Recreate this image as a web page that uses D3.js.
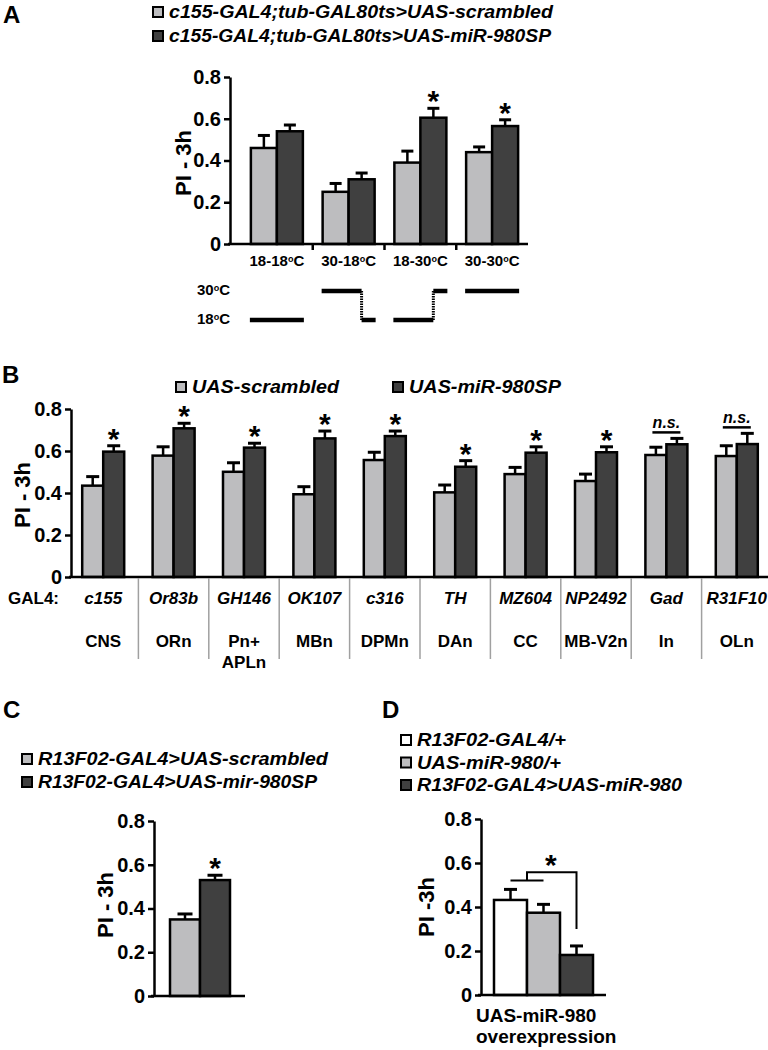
<!DOCTYPE html>
<html>
<head>
<meta charset="utf-8">
<script src="https://cdn.jsdelivr.net/npm/d3@7"></script>
<style>
  body { margin: 0; background: #fff; }
  svg { display: block; font-family: "Liberation Sans", Arial, sans-serif; font-weight: bold; }
</style>
</head>
<body>
<svg width="768" height="1050"></svg>
<script>
// ---- data ----
// panel A: temperature shift experiment
const tempGroups = ["18-18", "30-18", "18-30", "30-30"];
const tempPhases = [[18, 18], [30, 18], [18, 30], [30, 30]];
const tempScrambled = [0.46, 0.25, 0.39, 0.44];
const tempScrambledErr = [0.06, 0.04, 0.055, 0.025];
const tempSponge = [0.54, 0.31, 0.605, 0.565];
const tempSpongeErr = [0.03, 0.03, 0.045, 0.03];
const tempSig = ["", "", "*", "*"];
const tempLegend = ["c155-GAL4;tub-GAL80ts>UAS-scrambled", "c155-GAL4;tub-GAL80ts>UAS-miR-980SP"];

// panel B: GAL4 driver screen
const driverLines = ["c155", "Or83b", "GH146", "OK107", "c316", "TH", "MZ604", "NP2492", "Gad", "R31F10"];
const cellTypes = [["CNS"], ["ORn"], ["Pn+", "APLn"], ["MBn"], ["DPMn"], ["DAn"], ["CC"], ["MB-V2n"], ["In"], ["OLn"]];
const driverScrambled = [0.435, 0.578, 0.501, 0.394, 0.557, 0.403, 0.49, 0.457, 0.581, 0.576];
const driverScrambledErr = [0.043, 0.042, 0.043, 0.036, 0.037, 0.035, 0.032, 0.033, 0.037, 0.049];
const driverSponge = [0.597, 0.708, 0.616, 0.66, 0.671, 0.525, 0.592, 0.594, 0.632, 0.633];
const driverSpongeErr = [0.028, 0.024, 0.021, 0.035, 0.024, 0.029, 0.028, 0.026, 0.028, 0.051];
const driverSig = ["*", "*", "*", "*", "*", "*", "*", "*", "n.s.", "n.s."];
const driverLegend = ["UAS-scrambled", "UAS-miR-980SP"];

// panel C: R13F02 sponge
const r13Legend = ["R13F02-GAL4>UAS-scrambled", "R13F02-GAL4>UAS-mir-980SP"];
const r13Values = [0.35, 0.53];
const r13Errs = [0.025, 0.022];
const r13Sig = ["", "*"];

// panel D: overexpression
const oeLegend = ["R13F02-GAL4/+", "UAS-miR-980/+", "R13F02-GAL4>UAS-miR-980"];
const oeValues = [0.432, 0.374, 0.182];
const oeErrs = [0.048, 0.038, 0.041];
const oeBracket = { low: 0.52, top: 0.558, end: 0.30 };

const yTicks = [0, 0.2, 0.4, 0.6, 0.8];
const LIGHT = "#bdbdbf", DARK = "#404040", WHITE = "#ffffff";

const svg = d3.select("svg");
const fmt = d => d === 0 ? "0" : d3.format(".1f")(d);

function yAxis(y, x0, size) {
  const g = svg.append("g").attr("transform", `translate(${x0},0)`)
    .call(d3.axisLeft(y).tickValues(yTicks).tickFormat(fmt).tickSize(6).tickPadding(3).tickSizeOuter(0));
  g.selectAll("path, line").attr("stroke", "#000").attr("stroke-width", 2.5);
  g.selectAll("text").attr("font-size", size).attr("font-weight", "bold")
    .attr("font-family", "Liberation Sans, Arial, sans-serif").attr("fill", "#000");
  return g;
}

function xLine(x0, x1, yy) {
  svg.append("line").attr("x1", x0).attr("x2", x1).attr("y1", yy).attr("y2", yy)
    .attr("stroke", "#000").attr("stroke-width", 2.5);
}

function yLabel(text, x, yy) {
  svg.append("text").attr("transform", `translate(${x},${yy}) rotate(-90)`)
    .attr("text-anchor", "middle").attr("font-size", 22).text(text);
}

function panelLetter(l, x, yy) {
  svg.append("text").attr("x", x).attr("y", yy).attr("font-size", 24).text(l);
}

function legend(labels, fills, x, y0, dy, size, lens) {
  const g = svg.append("g");
  labels.forEach((lab, i) => {
    const yy = y0 + i * dy;
    g.append("rect").attr("x", x).attr("y", yy - 11).attr("width", 10).attr("height", 10)
      .attr("fill", fills[i]).attr("stroke", "#000").attr("stroke-width", 2);
    g.append("text").attr("x", x + 16).attr("y", yy).attr("font-size", size)
      .attr("font-style", "italic").attr("textLength", lens[i]).attr("lengthAdjust", "spacingAndGlyphs")
      .text(lab);
  });
}

// series: [{values, errs, fill}], returns bar center function
function bars(groups, series, x, y, barW, capW) {
  const total = barW * series.length;
  const sub = d3.scaleBand().domain(d3.range(series.length)).range([0, total]);
  const left = (grp, k) => x(grp) + (x.bandwidth() - total) / 2 + sub(k);
  series.forEach((s, k) => {
    const rows = groups.map((grp, i) => ({ grp, v: s.values[i], e: s.errs[i] }));
    const g = svg.append("g");
    g.selectAll("line.err").data(rows).join("line").attr("class", "err")
      .attr("x1", d => left(d.grp, k) + barW / 2).attr("x2", d => left(d.grp, k) + barW / 2)
      .attr("y1", d => y(d.v)).attr("y2", d => y(d.v + d.e))
      .attr("stroke", "#000").attr("stroke-width", 2.5);
    g.selectAll("line.cap").data(rows).join("line").attr("class", "cap")
      .attr("x1", d => left(d.grp, k) + barW / 2 - capW / 2).attr("x2", d => left(d.grp, k) + barW / 2 + capW / 2)
      .attr("y1", d => y(d.v + d.e)).attr("y2", d => y(d.v + d.e))
      .attr("stroke", "#000").attr("stroke-width", 3);
    g.selectAll("rect").data(rows).join("rect")
      .attr("x", d => left(d.grp, k)).attr("width", barW)
      .attr("y", d => y(d.v)).attr("height", d => y(0) - y(d.v))
      .attr("fill", s.fill).attr("stroke", "#000").attr("stroke-width", 2.5);
  });
  return (grp, k) => left(grp, k) + barW / 2;
}

// star sitting just above a given y
function star(cx, errTop) {
  svg.append("text").attr("x", cx).attr("y", errTop + 3).attr("text-anchor", "middle")
    .attr("font-size", 30).text("*");
}

function degText(sel, pre) {
  sel.append("tspan").text(pre);
  sel.append("tspan").attr("font-size", "0.6em").attr("dy", "-0.45em").text("o");
  sel.append("tspan").attr("dy", "0.27em").text("C");
}

// ---- panel A ----
panelLetter("A", 3, 23);
legend(tempLegend, [LIGHT, DARK], 153, 18, 24, 18, [384, 382]);
const yA = d3.scaleLinear().domain([0, 0.8]).range([244, 77]);
const xA = d3.scaleBand().domain(tempGroups).range([241, 528]);
const cA = bars(tempGroups,
  [{ values: tempScrambled, errs: tempScrambledErr, fill: LIGHT },
   { values: tempSponge, errs: tempSpongeErr, fill: DARK }], xA, yA, 26, 12);
yAxis(yA, 230, 20);
xLine(228, 528, yA(0));
tempGroups.slice(1).forEach(gp => {
  svg.append("line").attr("x1", xA(gp)).attr("x2", xA(gp)).attr("y1", yA(0)).attr("y2", yA(0) + 6)
    .attr("stroke", "#000").attr("stroke-width", 2.5);
});
tempGroups.forEach((gp, i) => {
  if (tempSig[i]) star(cA(gp, 1), yA(tempSponge[i] + tempSpongeErr[i]));
  const t = svg.append("text").attr("x", xA(gp) + xA.bandwidth() / 2).attr("y", 266)
    .attr("text-anchor", "middle").attr("font-size", 15);
  degText(t, gp);
});
yLabel("PI - 3h", 191, 163);

// temperature schedule
const tY = d3.scaleLinear().domain([18, 30]).range([320, 291]);
[30, 18].forEach(tc => {
  const t = svg.append("text").attr("x", 197).attr("y", tY(tc) + 4).attr("font-size", 15);
  degText(t, String(tc));
});
tempGroups.forEach((gp, i) => {
  const c = xA(gp) + xA.bandwidth() / 2, w = 54, s = c - 27, split = s + w * 0.74;
  const [t1, t2] = tempPhases[i];
  const seg = (a, b, tv) => svg.append("line").attr("x1", a).attr("x2", b).attr("y1", tY(tv)).attr("y2", tY(tv))
    .attr("stroke", "#000").attr("stroke-width", 4.5);
  if (t1 === t2) { seg(s, s + w, t1); return; }
  seg(s, split, t1);
  seg(split, s + w, t2);
  svg.append("line").attr("x1", split).attr("x2", split).attr("y1", tY(t1)).attr("y2", tY(t2))
    .attr("stroke", "#000").attr("stroke-width", 3).attr("stroke-dasharray", "1.5,1");
});

// ---- panel B ----
panelLetter("B", 2, 383);
legend([driverLegend[0]], [LIGHT], 176, 393, 0, 19, [147]);
legend([driverLegend[1]], [DARK], 393, 393, 0, 19, [152]);
const yB = d3.scaleLinear().domain([0, 0.8]).range([577, 409]);
const xB = d3.scaleBand().domain(driverLines).range([68, 772]);
const cB = bars(driverLines,
  [{ values: driverScrambled, errs: driverScrambledErr, fill: LIGHT },
   { values: driverSponge, errs: driverSpongeErr, fill: DARK }], xB, yB, 21, 13);
yAxis(yB, 71, 20);
xLine(69, 768, yB(0));
driverLines.slice(1).forEach(d => {
  svg.append("line").attr("x1", xB(d)).attr("x2", xB(d)).attr("y1", yB(0) + 1).attr("y2", 659)
    .attr("stroke", "#a0a0a0").attr("stroke-width", 1.5);
});
driverLines.forEach((d, i) => {
  const c = xB(d) + xB.bandwidth() / 2;
  const top = Math.max(driverScrambled[i] + driverScrambledErr[i], driverSponge[i] + driverSpongeErr[i]);
  if (driverSig[i] === "*") star(cB(d, 1), yB(driverSponge[i] + driverSpongeErr[i]));
  else if (driverSig[i]) {
    svg.append("line").attr("x1", c - 14).attr("x2", c + 14).attr("y1", yB(top) - 6).attr("y2", yB(top) - 6)
      .attr("stroke", "#000").attr("stroke-width", 2.5);
    svg.append("text").attr("x", c).attr("y", yB(top) - 10).attr("text-anchor", "middle")
      .attr("font-size", 16).attr("font-style", "italic").text(driverSig[i]);
  }
  svg.append("text").attr("x", c).attr("y", 604).attr("text-anchor", "middle")
    .attr("font-size", 17).attr("font-style", "italic").text(d);
  cellTypes[i].forEach((ln, j) => {
    svg.append("text").attr("x", c).attr("y", 647 + j * 21).attr("text-anchor", "middle")
      .attr("font-size", 17).text(ln);
  });
});
svg.append("text").attr("x", 8).attr("y", 604).attr("font-size", 17).text("GAL4:");
yLabel("PI - 3h", 30, 495);

// ---- panel C ----
panelLetter("C", 3, 718);
legend(r13Legend, [LIGHT, DARK], 22, 765, 23, 18, [290, 279]);
const yC = d3.scaleLinear().domain([0, 0.8]).range([996, 821]);
const xC = d3.scaleBand().domain(["R13F02"]).range([155, 245]);
const cC = bars(["R13F02"],
  [{ values: [r13Values[0]], errs: [r13Errs[0]], fill: LIGHT },
   { values: [r13Values[1]], errs: [r13Errs[1]], fill: DARK }], xC, yC, 30, 15);
yAxis(yC, 154, 20);
xLine(151, 245, yC(0));
r13Sig.forEach((s, k) => { if (s) star(cC("R13F02", k), yC(r13Values[k] + r13Errs[k])); });
yLabel("PI - 3h", 113, 905);

// ---- panel D ----
panelLetter("D", 382, 718);
legend(oeLegend, [WHITE, LIGHT, DARK], 401, 746, 22.5, 19, [149, 144, 265]);
const yD = d3.scaleLinear().domain([0, 0.8]).range([995, 819]);
const xD = d3.scaleBand().domain(["oe"]).range([481, 606]);
const cD = bars(["oe"],
  oeValues.map((v, k) => ({ values: [v], errs: [oeErrs[k]], fill: [WHITE, LIGHT, DARK][k] })),
  xD, yD, 33, 13);
yAxis(yD, 481, 20);
xLine(478, 606, yD(0));
{
  const a = cD("oe", 0), b = cD("oe", 1), c = cD("oe", 2), m = (a + b) / 2;
  const path = d3.path();
  path.moveTo(a, yD(oeBracket.low)); path.lineTo(b, yD(oeBracket.low));
  path.moveTo(m, yD(oeBracket.low)); path.lineTo(m, yD(oeBracket.top));
  path.lineTo(c, yD(oeBracket.top)); path.lineTo(c, yD(oeBracket.end));
  svg.append("path").attr("d", path.toString()).attr("fill", "none")
    .attr("stroke", "#000").attr("stroke-width", 2);
  star((m + c) / 2 - 1, yD(oeBracket.top));
}
yLabel("PI -3h", 434, 907);
svg.append("text").attr("x", 476).attr("y", 1022).attr("font-size", 19).text("UAS-miR-980");
svg.append("text").attr("x", 476).attr("y", 1043).attr("font-size", 19).text("overexpression");
</script>
</body>
</html>
